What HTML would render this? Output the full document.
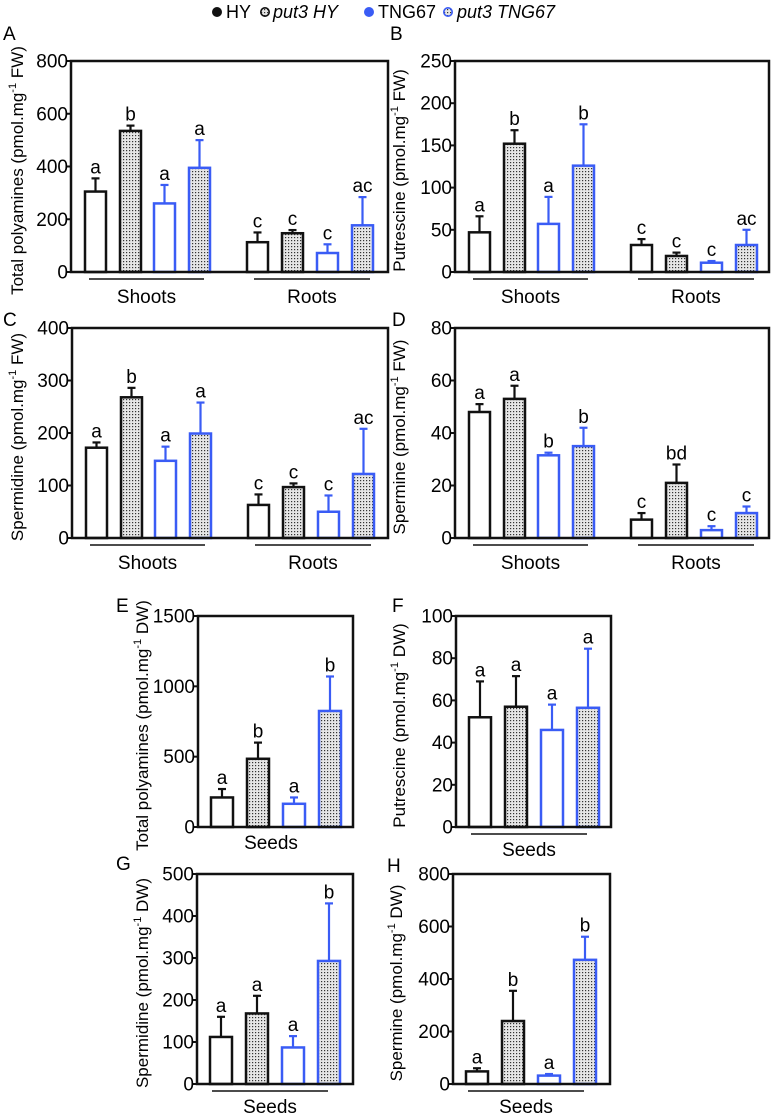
<!DOCTYPE html>
<html><head><meta charset="utf-8"><style>
html,body{margin:0;padding:0;background:#fff;}
svg{display:block;font-family:"Liberation Sans",Arial,sans-serif;}
</style></head><body>
<svg id="fig" width="771" height="1116" viewBox="0 0 771 1116" xmlns="http://www.w3.org/2000/svg">
<defs>
<pattern id="dots" width="3" height="3" patternUnits="userSpaceOnUse">
<rect width="3" height="3" fill="#e6e6e6"/>
<rect x="0" y="0" width="1.2" height="1.2" fill="#333"/>
</pattern>
</defs>
<g font-size="18">
<circle cx="217" cy="12" r="5" fill="#111"/>
<text x="226" y="18">HY</text>
<circle cx="265" cy="12" r="4.2" fill="url(#dots)" stroke="#111" stroke-width="1.6"/>
<text x="273" y="18" font-style="italic">put3 HY</text>
<circle cx="369" cy="12" r="5" fill="#3a5cf5"/>
<text x="378" y="18">TNG67</text>
<circle cx="448" cy="12" r="4.2" fill="url(#dots)" stroke="#3a5cf5" stroke-width="1.6"/>
<text x="457" y="18" font-style="italic">put3 TNG67</text>
</g>
</svg>
<script>
const catsTissue = ["HY Shoots","put3 HY Shoots","TNG67 Shoots","put3 TNG67 Shoots","HY Roots","put3 HY Roots","TNG67 Roots","put3 TNG67 Roots"];
const catsSeeds = ["HY","put3 HY","TNG67","put3 TNG67"];
const valsA = [305,535,260,395,113,147,72,177];
const errA = [50,20,70,105,37,12,33,107];
const letA = ["a","b","a","a","c","c","c","ac"];
const ticksA = [0,200,400,600,800];
const valsB = [47,152,57,126,32,19,11,32];
const errB = [19,16,32,49,7,4,2,18];
const letB = ["a","b","a","b","c","c","c","ac"];
const ticksB = [0,50,100,150,200,250];
const valsC = [172,268,147,199,63,97,50,122];
const errC = [10,18,27,59,20,7,31,86];
const letC = ["a","b","a","a","c","c","c","ac"];
const ticksC = [0,100,200,300,400];
const valsD = [48,53,31.5,35,7,21,3,9.5];
const errD = [3,5,1,7,2.5,7,1.5,2.5];
const letD = ["a","a","b","b","c","bd","c","c"];
const ticksD = [0,20,40,60,80];
const valsE = [210,485,165,825];
const errE = [60,115,45,245];
const letE = ["a","b","a","b"];
const ticksE = [0,500,1000,1500];
const valsF = [52,57,46,56.5];
const errF = [17,14.5,12,28];
const letF = ["a","a","a","a"];
const ticksF = [0,20,40,60,80,100];
const valsG = [112,168,87,293];
const errG = [48,42,27,137];
const letG = ["a","a","a","b"];
const ticksG = [0,100,200,300,400,500];
const valsH = [48,240,32,473];
const errH = [12,115,6,88];
const letH = ["a","b","a","b"];
const ticksH = [0,200,400,600,800];

const NS="http://www.w3.org/2000/svg";
const svg=document.getElementById('fig');
function mk(tag,attrs,parent){const e=document.createElementNS(NS,tag);for(const k in attrs)e.setAttribute(k,attrs[k]);(parent||svg).appendChild(e);return e;}
const BLUE="#3a5cf5";

function panel(o){
  const g=mk('g',{});
  
  
  const L=o.x,T=o.y,W=o.w,H=o.h,B=T+H;
  const max=o.ticks[o.ticks.length-1];
  const yS=v=>B-v/max*H;
  o.ticks.forEach(t=>{
    const y=yS(t);
    const tl=mk('line',{x1:L-5,x2:L,y1:y,y2:y,stroke:'#111','stroke-width':2},g);
    
    
    const tx=mk('text',{x:L-3,y:y+6.5,'text-anchor':'end','font-size':19},g);
    
    
    tx.textContent=t;
  });
  o.vals.forEach((v,i)=>{
    const bx=L+o.offs[i], bw=o.bw;
    const col=(i%4)>=2?BLUE:'#111';
    const pat=(i%2)==1;
    const top=yS(v), et=yS(v+o.err[i]);
    const el=mk('line',{x1:bx+bw/2,x2:bx+bw/2,y1:top,y2:et,stroke:col,'stroke-width':2.2},g);
    
    
    const cap=mk('line',{x1:bx+bw/2-4,x2:bx+bw/2+4,y1:et,y2:et,stroke:col,'stroke-width':2.2},g);
    
    
    const r=mk('rect',{x:bx,y:top,width:bw,height:B-top,fill:pat?'url(#dots)':'#fff',stroke:col,'stroke-width':2.5},g);
    
    
    const lt=mk('text',{x:bx+bw/2,y:et-5,'text-anchor':'middle','font-size':19},g);
    
    
    lt.textContent=o.lets[i];
  });
  const fr=mk('rect',{x:L,y:T,width:W,height:H,fill:'none',stroke:'#111','stroke-width':2.5},g);
  
  
  o.groups.forEach(gr=>{
    if(gr.line){
      const ul=mk('line',{x1:L+gr.x1,x2:L+gr.x2,y1:B+gr.ly,y2:B+gr.ly,stroke:'#111','stroke-width':1.5},g);
      
      
    }
    const gt=mk('text',{x:L+(gr.x1+gr.x2)/2,y:B+gr.ty,'text-anchor':'middle','font-size':19},g);
    
    
    gt.textContent=gr.name;
  });
  const cy=T+H/2+4;
  const yt=mk('text',{x:o.tx,y:cy,'text-anchor':'middle','font-size':17,transform:`rotate(-90 ${o.tx} ${cy})`},g);
  
  
  yt.innerHTML=o.title+' (pmol.mg<tspan dy="-7" font-size="11">-1</tspan><tspan dy="7"> '+o.unit+')</tspan>';
  const pl=mk('text',{x:o.lx,y:o.ly,'font-size':19},g);
  
  
  pl.textContent=o.id;
}
const tOffs=[14,49,83,118,176,211,246,281];
const sOffs=[13,49,85,121];
const tGroups=[{name:'Shoots',x1:18,x2:133,ly:7,ty:31,line:true},{name:'Roots',x1:183,x2:299,ly:7,ty:31,line:true}];
const sGroupsLine=[{name:'Seeds',x1:15,x2:131,ly:7,ty:29,line:true}];
const sGroupsNo=[{name:'Seeds',x1:15,x2:131,ly:7,ty:22,line:false}];
panel({id:'A',x:71,y:61,w:317,h:211,ticks:ticksA,vals:valsA,err:errA,lets:letA,cats:catsTissue,offs:tOffs,bw:21,groups:tGroups,title:'Total polyamines',unit:'FW',tx:23,lx:3,ly:40});
panel({id:'B',x:455,y:61,w:314,h:211,ticks:ticksB,vals:valsB,err:errB,lets:letB,cats:catsTissue,offs:tOffs,bw:21,groups:tGroups,title:'Putrescine',unit:'FW',tx:405,lx:390,ly:40});
panel({id:'C',x:72,y:328,w:316,h:210,ticks:ticksC,vals:valsC,err:errC,lets:letC,cats:catsTissue,offs:tOffs,bw:21,groups:tGroups,title:'Spermidine',unit:'FW',tx:23,lx:3,ly:326});
panel({id:'D',x:455,y:328,w:314,h:210,ticks:ticksD,vals:valsD,err:errD,lets:letD,cats:catsTissue,offs:tOffs,bw:21,groups:tGroups,title:'Spermine',unit:'FW',tx:405,lx:392,ly:326});
panel({id:'E',x:198,y:616,w:155,h:211,ticks:ticksE,vals:valsE,err:errE,lets:letE,cats:catsSeeds,offs:sOffs,bw:22,groups:sGroupsNo,title:'Total polyamines',unit:'DW',tx:148,lx:116,ly:612});
panel({id:'F',x:456,y:616,w:155,h:211,ticks:ticksF,vals:valsF,err:errF,lets:letF,cats:catsSeeds,offs:sOffs,bw:22,groups:sGroupsLine,title:'Putrescine',unit:'DW',tx:405,lx:392,ly:612});
panel({id:'G',x:197,y:874,w:156,h:210,ticks:ticksG,vals:valsG,err:errG,lets:letG,cats:catsSeeds,offs:sOffs,bw:22,groups:sGroupsLine,title:'Spermidine',unit:'DW',tx:148,lx:116,ly:870});
panel({id:'H',x:453,y:874,w:157,h:210,ticks:ticksH,vals:valsH,err:errH,lets:letH,cats:catsSeeds,offs:sOffs,bw:22,groups:sGroupsLine,title:'Spermine',unit:'DW',tx:402,lx:387,ly:872});
</script>
</body></html>
